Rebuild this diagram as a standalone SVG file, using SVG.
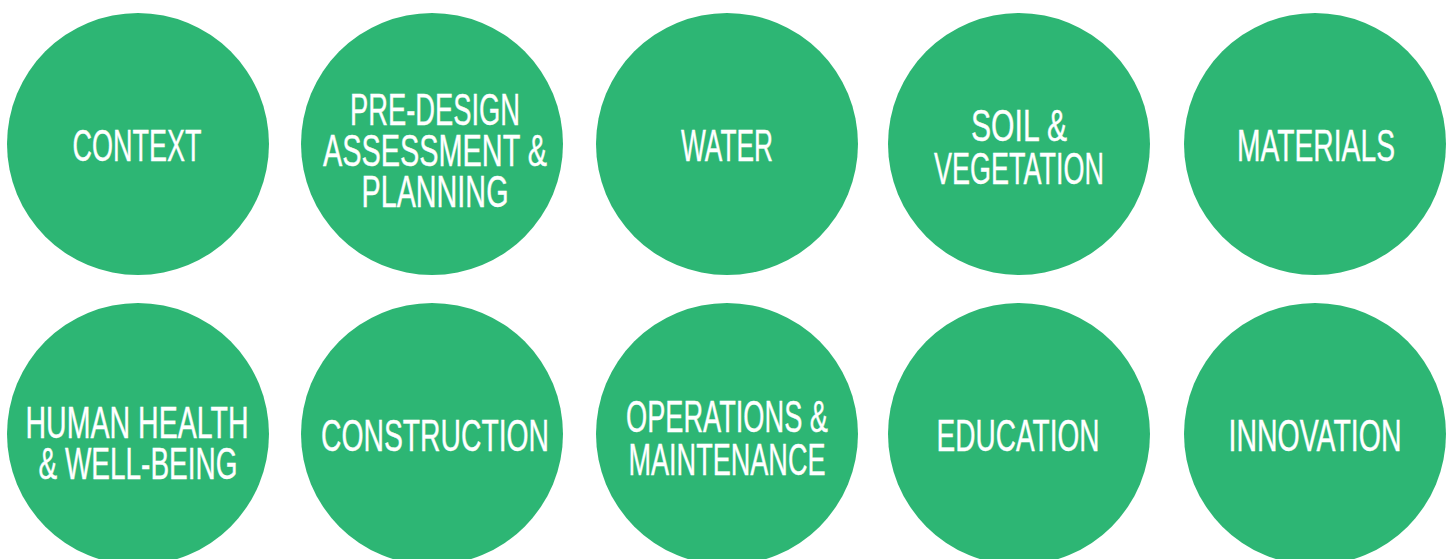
<svg xmlns="http://www.w3.org/2000/svg" width="1453" height="559" viewBox="0 0 1453 559">
<style>
.c{fill:#2db674}
.t{fill:#ffffff;stroke:#ffffff;stroke-width:0.4px;font-family:"Liberation Sans",Arial,sans-serif;font-size:44px;text-anchor:middle}
</style>
<rect width="1453" height="559" fill="#ffffff"/>
<g id="context"><circle class="c" cx="138" cy="144" r="131"/><text class="t" x="137" y="161" textLength="129" lengthAdjust="spacingAndGlyphs">CONTEXT</text></g>
<g id="predesign"><circle class="c" cx="432" cy="144" r="131"/>
<text class="t" x="435" y="125" textLength="170" lengthAdjust="spacingAndGlyphs">PRE-DESIGN</text>
<text class="t" x="435" y="166" textLength="224" lengthAdjust="spacingAndGlyphs">ASSESSMENT &amp;</text>
<text class="t" x="435" y="207" textLength="147" lengthAdjust="spacingAndGlyphs">PLANNING</text></g>
<g id="water"><circle class="c" cx="727" cy="144" r="131"/><text class="t" x="727" y="161" textLength="92" lengthAdjust="spacingAndGlyphs">WATER</text></g>
<g id="soil"><circle class="c" cx="1019" cy="144" r="131"/>
<text class="t" x="1019" y="141" textLength="96" lengthAdjust="spacingAndGlyphs">SOIL &amp;</text>
<text class="t" x="1019" y="184" textLength="170" lengthAdjust="spacingAndGlyphs">VEGETATION</text></g>
<g id="materials"><circle class="c" cx="1315" cy="144" r="131"/><text class="t" x="1316" y="161" textLength="158" lengthAdjust="spacingAndGlyphs">MATERIALS</text></g>
<g id="health"><circle class="c" cx="138" cy="434" r="131"/>
<text class="t" x="137" y="438" textLength="223" lengthAdjust="spacingAndGlyphs">HUMAN HEALTH</text>
<text class="t" x="138" y="479" textLength="199" lengthAdjust="spacingAndGlyphs">&amp; WELL-BEING</text></g>
<g id="construction"><circle class="c" cx="432" cy="434" r="131"/><text class="t" x="435" y="451" textLength="228" lengthAdjust="spacingAndGlyphs">CONSTRUCTION</text></g>
<g id="operations"><circle class="c" cx="727" cy="434" r="131"/>
<text class="t" x="727" y="432" textLength="202" lengthAdjust="spacingAndGlyphs">OPERATIONS &amp;</text>
<text class="t" x="727" y="475" textLength="197" lengthAdjust="spacingAndGlyphs">MAINTENANCE</text></g>
<g id="education"><circle class="c" cx="1019" cy="434" r="131"/><text class="t" x="1018" y="451" textLength="163" lengthAdjust="spacingAndGlyphs">EDUCATION</text></g>
<g id="innovation"><circle class="c" cx="1315" cy="434" r="131"/><text class="t" x="1315" y="451" textLength="173" lengthAdjust="spacingAndGlyphs">INNOVATION</text></g>
<g id="connectors"/>
</svg>
